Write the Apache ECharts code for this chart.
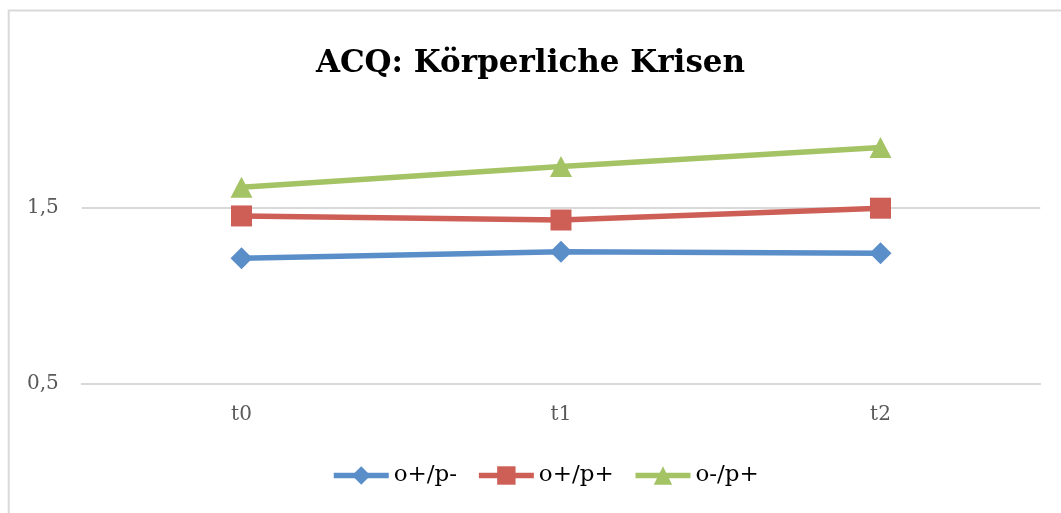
<!DOCTYPE html>
<html>
<head>
<meta charset="utf-8">
<script src="https://cdn.jsdelivr.net/npm/echarts@6/dist/echarts.min.js"></script>
<style>
  html, body { margin: 0; padding: 0; background: #ffffff; }
  #chart { width: 1061px; height: 513px; }
</style>
</head>
<body>
<div id="chart"></div>
<script>
// Measurement points and group means
const categories = ['t0', 't1', 't2'];
const seriesNames = ['o+/p-', 'o+/p+', 'o-/p+'];
const opMinus = [1.213, 1.25, 1.241];
const opPlus = [1.453, 1.43, 1.497];
const oMinusPPlus = [1.616, 1.733, 1.841];
const yTicks = [0.5, 1.5];

const colors = ['#5a8ec9', '#cd5f57', '#a4c365'];
const symbols = ['diamond', 'rect', 'triangle'];
const symbolSizes = [[22, 22], [21, 21], [22, 21]];
const values = [opMinus, opPlus, oMinusPPlus];

const serifFont = '"DejaVu Serif", "Liberation Serif", serif';

const chart = echarts.init(document.getElementById('chart'), null, { renderer: 'canvas' });

chart.setOption({
  backgroundColor: '#ffffff',
  animation: false,
  title: {
    text: 'ACQ: Körperliche Krisen',
    left: 'center',
    top: 43,
    textStyle: {
      fontFamily: serifFont,
      fontWeight: 'bold',
      fontSize: 31,
      color: '#000000'
    }
  },
  graphic: [{
    type: 'rect',
    silent: true,
    shape: { x: 8.7, y: 10.5, width: 1200, height: 700 },
    style: { fill: 'none', stroke: '#d9d9d9', lineWidth: 2 }
  }],
  legend: {
    left: 331,
    top: 464,
    padding: 0,
    itemWidth: 55,
    itemHeight: 23,
    itemGap: 19,
    lineStyle: { width: 5.5 },
    textStyle: {
      fontFamily: serifFont,
      fontSize: 23,
      color: '#000000'
    },
    data: seriesNames
  },
  grid: {
    left: 81.75,
    right: 20.75,
    top: 119.5,
    bottom: 129,
    containLabel: false
  },
  xAxis: {
    type: 'category',
    data: categories,
    boundaryGap: true,
    axisLine: { show: true, lineStyle: { color: '#d9d9d9', width: 2 } },
    axisTick: { show: false },
    axisLabel: {
      margin: 21,
      fontFamily: serifFont,
      fontSize: 20,
      color: '#595959'
    },
    splitLine: { show: false }
  },
  yAxis: {
    type: 'value',
    min: 0.5,
    max: 2,
    interval: 1,
    axisLine: { show: false },
    axisTick: { show: false },
    axisLabel: {
      margin: 23,
      showMaxLabel: false,
      fontFamily: serifFont,
      fontSize: 20,
      color: '#595959',
      formatter: function (v) {
        return yTicks.indexOf(v) >= 0 ? v.toFixed(1).replace('.', ',') : '';
      }
    },
    splitLine: {
      show: true,
      showMaxLine: false,
      lineStyle: { color: '#d9d9d9', width: 2 }
    }
  },
  series: seriesNames.map(function (name, i) {
    return {
      name: name,
      type: 'line',
      data: values[i],
      symbol: symbols[i],
      symbolSize: symbolSizes[i],
      showAllSymbol: true,
      lineStyle: { color: colors[i], width: 5.5 },
      itemStyle: { color: colors[i] },
      z: 2 + i
    };
  })
});
</script>
</body>
</html>
